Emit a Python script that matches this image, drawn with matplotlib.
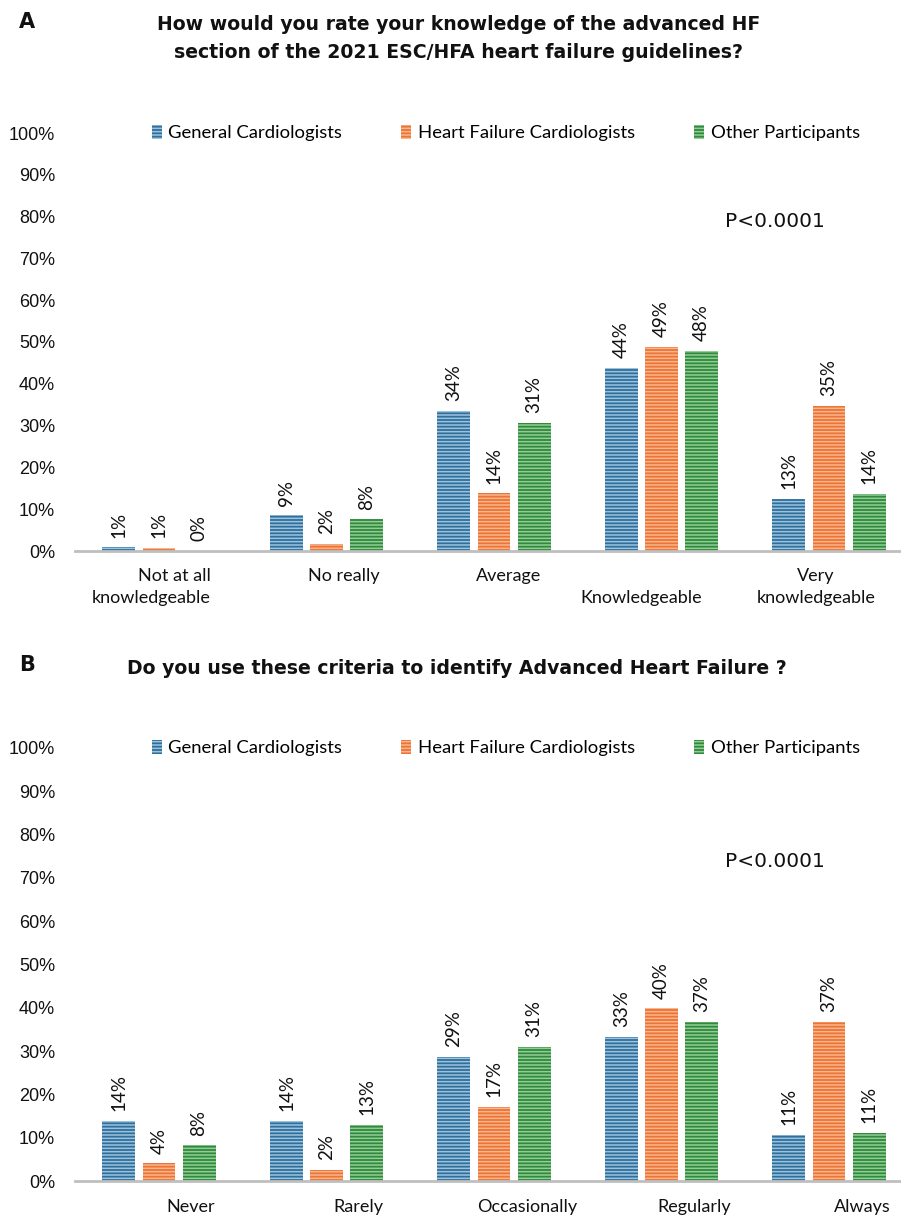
import numpy as np
import matplotlib
matplotlib.use("Agg")
import matplotlib.pyplot as plt
from matplotlib.patches import Patch
from matplotlib.transforms import ScaledTranslation

# ---------------- data ----------------
series = ["General Cardiologists", "Heart Failure Cardiologists", "Other Participants"]

cats_a = ["Not at all\nknowledgeable", "No really", "Average", "\nKnowledgeable", "Very\nknowledgeable"]
gen_a = [0.9, 8.5, 33.6, 43.8, 12.4]
hf_a = [0.8, 1.7, 13.8, 48.8, 34.8]
oth_a = [0.0, 7.6, 30.6, 47.8, 13.7]
lab_gen_a = ["1%", "9%", "34%", "44%", "13%"]
lab_hf_a = ["1%", "2%", "14%", "49%", "35%"]
lab_oth_a = ["0%", "8%", "31%", "48%", "14%"]

cats_b = ["Never", "Rarely", "Occasionally", "Regularly", "Always"]
gen_b = [13.9, 13.9, 28.6, 33.3, 10.6]
hf_b = [4.1, 2.5, 17.1, 39.9, 36.7]
oth_b = [8.2, 12.9, 31.0, 36.8, 11.1]
lab_gen_b = ["14%", "14%", "29%", "33%", "11%"]
lab_hf_b = ["4%", "2%", "17%", "40%", "37%"]
lab_oth_b = ["8%", "13%", "31%", "37%", "11%"]

yticks = [0, 10, 20, 30, 40, 50, 60, 70, 80, 90, 100]
ytick_labels = [f"{v}%" for v in yticks]

title_a = "How would you rate your knowledge of the advanced HF\nsection of the 2021 ESC/HFA heart failure guidelines?"
title_b = "Do you use these criteria to identify Advanced Heart Failure ?"
pval = "P<0.0001"

# ---------------- style ----------------
face = ["#306f9c", "#ec7434", "#2f8a3c"]
hatchc = ["#9cc3de", "#f8b68f", "#93cc97"]
plt.rcParams["hatch.linewidth"] = 1.1

W, H = 901, 1216
fig = plt.figure(figsize=(W / 100, H / 100), dpi=100)


def px_axes(left, top, right, bottom):
    return fig.add_axes([left / W, 1 - bottom / H, (right - left) / W, (bottom - top) / H])


LBL = "Lato"


def panel(ax, cats, vals, labs, cat_dx, cat_ma, xpad, pv_y):
    x = np.arange(len(cats))
    w = 0.197
    off = 0.239
    for i, (v, lb) in enumerate(zip(vals, labs)):
        bars = ax.bar(x + (i - 1) * off, v, width=w, color=face[i], edgecolor=hatchc[i],
                      hatch="-----", linewidth=0, zorder=2)
        for rect, t in zip(bars, lb):
            ax.annotate(t, (rect.get_x() + rect.get_width() / 2, rect.get_height()),
                        xytext=(0, 7), textcoords="offset points", rotation=90,
                        ha="center", va="bottom", fontsize=13.5, family=LBL, color="#111111")
    ax.set_xlim(-0.5, 4.5)
    ax.set_ylim(0, 100)
    ax.set_yticks(yticks)
    ax.set_yticklabels(ytick_labels, family="Liberation Sans", fontsize=13, color="#111111")
    ax.set_xticks(x)
    ax.set_xticklabels(cats, family=LBL, fontsize=13, color="#111111")
    ax.tick_params(axis="y", length=0, pad=14.5)
    ax.tick_params(axis="x", length=0, pad=xpad)
    for s in ["top", "right", "left"]:
        ax.spines[s].set_visible(False)
    ax.spines["bottom"].set_color("#bfbfbf")
    ax.spines["bottom"].set_linewidth(2)
    for lab, dx, ma in zip(ax.get_xticklabels(), cat_dx, cat_ma):
        lab.set_transform(lab.get_transform() + ScaledTranslation(dx / 100, 0, fig.dpi_scale_trans))
        lab.set_multialignment(ma)
        lab.set_linespacing(1.5)
    handles = [Patch(facecolor=face[i], edgecolor=hatchc[i], hatch="-----", linewidth=0)
               for i in range(3)]
    ax.legend(handles, series, loc="center", bbox_to_anchor=(0.514, 1.0), ncol=3, frameon=False,
              prop={"family": LBL, "size": 13.3}, handlelength=0.55, handleheight=0.8,
              handletextpad=0.35, columnspacing=3.2, borderaxespad=0)
    ax.text(3.68, pv_y, pval, ha="center", va="center",
            fontsize=14.5, family="DejaVu Sans", color="#111111")


axA = px_axes(75.25, 133, 912.75, 551)
panel(axA, cats_a, [gen_a, hf_a, oth_a], [lab_gen_a, lab_hf_a, lab_oth_a],
      [-8, 17, 15, -20, -13], ["right", "center", "center", "center", "center"], 12, 78.8)
axB = px_axes(75.25, 748, 912.75, 1181)
panel(axB, cats_b, [gen_b, hf_b, oth_b], [lab_gen_b, lab_hf_b, lab_oth_b],
      [32, 32, 33, 33, 33], ["center"] * 5, 13, 73.7)

fig.text(459 / W, 1 - 38 / H, title_a, ha="center", va="center", fontsize=13.6,
         fontweight="bold", family="DejaVu Sans", linespacing=1.6, color="#111111")
fig.text(457 / W, 1 - 669 / H, title_b, ha="center", va="center", fontsize=13.6,
         fontweight="bold", family="DejaVu Sans", color="#111111")
fig.text(27 / W, 1 - 22 / H, "A", ha="center", va="center", fontsize=15,
         fontweight="bold", family="DejaVu Sans", color="#111111")
fig.text(27 / W, 1 - 665 / H, "B", ha="center", va="center", fontsize=15,
         fontweight="bold", family="DejaVu Sans", color="#111111")

fig.savefig("out.png", dpi=100)
